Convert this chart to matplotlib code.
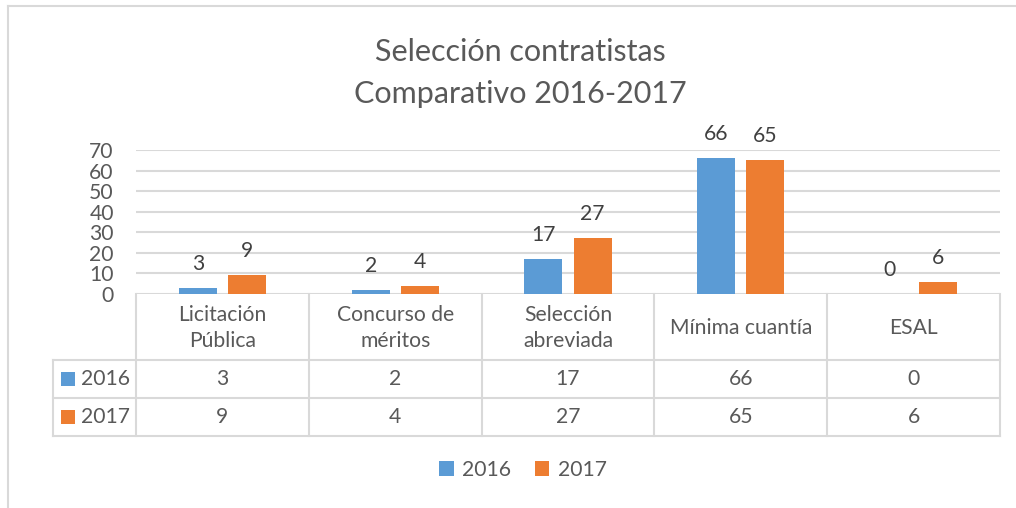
import matplotlib
matplotlib.use("Agg")
import matplotlib.pyplot as plt
from matplotlib.lines import Line2D
from matplotlib.patches import Rectangle, Patch
from matplotlib.transforms import blended_transform_factory

categories = ["Licitación\nPública", "Concurso de\nméritos", "Selección\nabreviada",
              "Mínima cuantía", "ESAL"]
series_names = ["2016", "2017"]
values_2016 = [3, 2, 17, 66, 0]
values_2017 = [9, 4, 27, 65, 6]
yticks = [0, 10, 20, 30, 40, 50, 60, 70]
title = "Selección contratistas\nComparativo 2016-2017"

BLUE = "#5B9BD5"
ORANGE = "#ED7D31"
TXT = "#595959"
DARK = "#404040"
GRID = "#D9D9D9"
FONT = "Lato"
FS = 15.2

W, H = 1016, 508
fig = plt.figure(figsize=(W / 100, H / 100), dpi=100)
plt.rcParams["font.family"] = [FONT, "DejaVu Sans"]

def fx(px):
    return px / W

def fy(py):
    return 1 - py / H

ax = fig.add_axes([fx(136), fy(294), fx(1000) - fx(136), fy(150) - fy(294)])
ax.set_xlim(-0.5, len(categories) - 0.5)
ax.set_ylim(0, 70)
for s in ax.spines.values():
    s.set_visible(False)
ax.set_yticks(yticks)
ax.set_xticks([])
ax.tick_params(axis="y", length=0, pad=16, labelsize=FS, labelcolor=TXT)
ax.yaxis.grid(True, color=GRID, linewidth=1.5)
ax.set_axisbelow(True)

x = list(range(len(categories)))
bw = 0.22
off = 0.142
series = [(values_2016, BLUE, -off), (values_2017, ORANGE, off)]
for (vals, col, o), name in zip(series, series_names):
    ax.bar([i + o for i in x], vals, width=bw, color=col, label=name, zorder=3)
    for xi, v in zip(x, vals):
        ax.annotate(str(v), (xi + o, v), xytext=(0, 13), textcoords="offset points",
                    ha="center", va="baseline", fontsize=FS, color=DARK)

# data table
bt = blended_transform_factory(ax.transData, fig.transFigure)
lw = 1.5
bounds = [i - 0.5 for i in range(len(categories) + 1)]
for b in bounds:
    fig.add_artist(Line2D([b, b], [fy(294), fy(436)], transform=bt, color=GRID, lw=lw))
for yy in [360, 398, 436]:
    fig.add_artist(Line2D([fx(53), fx(1000)], [fy(yy), fy(yy)], transform=fig.transFigure,
                          color=GRID, lw=lw))
fig.add_artist(Line2D([fx(53), fx(53)], [fy(360), fy(436)], transform=fig.transFigure,
                      color=GRID, lw=lw))

for xi, c in zip(x, categories):
    fig.text(xi, fy(328), c, transform=bt, ha="center", va="center", fontsize=FS,
             color=TXT, linespacing=1.4)

rows = [(values_2016, BLUE, 379), (values_2017, ORANGE, 417)]
for (vals, col, yc), name in zip(rows, series_names):
    fig.add_artist(Rectangle((fx(61), fy(yc + 7)), fx(14), 14 / H, transform=fig.transFigure,
                             facecolor=col, edgecolor="none"))
    fig.text(fx(81), fy(yc), name, ha="left", va="center", fontsize=FS, color=TXT)
    for xi, v in zip(x, vals):
        fig.text(xi, fy(yc), str(v), transform=bt, ha="center", va="center",
                 fontsize=FS, color=TXT)

# chart border
fig.add_artist(Line2D([fx(8), fx(1016)], [fy(6), fy(6)], transform=fig.transFigure,
                      color=GRID, lw=1.5))
fig.add_artist(Line2D([fx(8), fx(8)], [fy(6), fy(508)], transform=fig.transFigure,
                      color=GRID, lw=1.5))

# title
fig.text(fx(520), fy(73), title, ha="center", va="center", fontsize=22, color=TXT,
         linespacing=1.58)

# legend
handles = [Patch(facecolor=BLUE), Patch(facecolor=ORANGE)]
fig.legend(handles, series_names, loc="center", bbox_to_anchor=(fx(523), fy(470)),
           ncol=2, frameon=False, fontsize=FS, labelcolor=TXT, handlelength=0.7,
           handleheight=0.7, handletextpad=0.4, columnspacing=1.1)

fig.savefig("out.png", dpi=100)
